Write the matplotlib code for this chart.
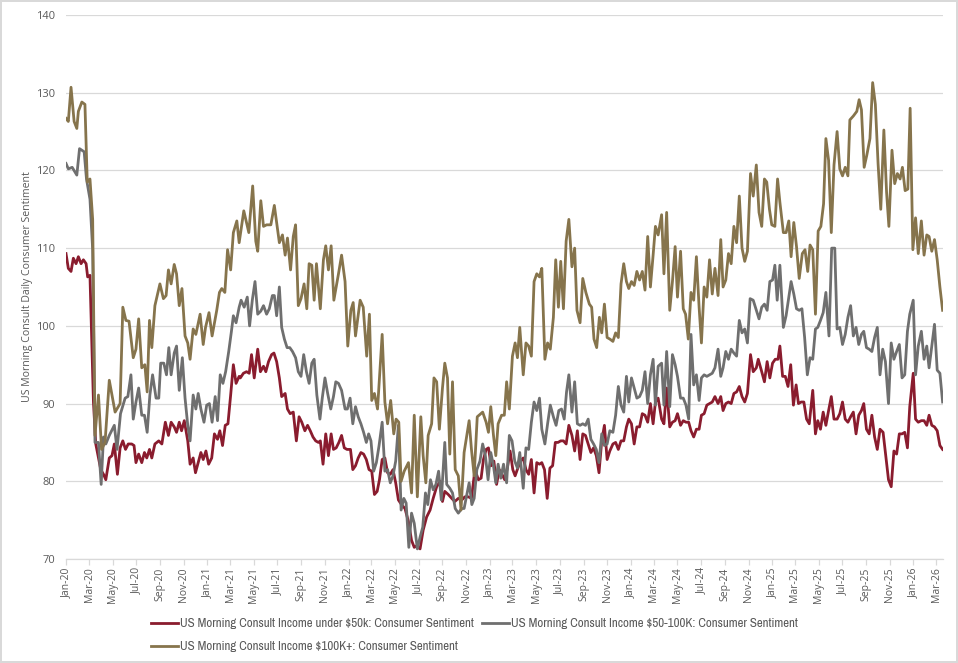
import matplotlib
matplotlib.use("Agg")
import matplotlib.pyplot as plt
import matplotlib.dates as mdates
from matplotlib import font_manager
import pandas as pd

# Weekly readings, x = days since 2020-01-01
START = pd.Timestamp("2020-01-01")
END_DAY = 2269

SERIES_LABELS = [
    "US Morning Consult Income under $50k: Consumer Sentiment",
    "US Morning Consult Income $50-100K: Consumer Sentiment",
    "US Morning Consult Income $100K+: Consumer Sentiment",
]
COLORS = ["#8a1c2e", "#6f6f6f", "#86744c"]

under50_days = [
    0, 6, 13, 19, 26, 32, 39, 45, 52, 56, 62, 71, 77, 84, 90, 97, 103, 112, 119, 125,
    133, 140, 147, 154, 161, 170, 176, 181, 188, 196, 203, 209, 216, 222, 230, 240, 248, 257, 265, 272,
    280, 286, 293, 299, 306, 315, 321, 329, 335, 342, 349, 355, 362, 369, 377, 384, 392, 398, 405, 412,
    419, 426, 433, 440, 448,
    451, 459, 467, 474, 480, 487, 496, 503, 511, 517, 524, 532, 538, 545, 552, 558, 567, 573, 580, 588,
    596, 603, 610, 618, 625, 632, 639, 646, 653, 658, 665, 672, 679, 686, 692, 699, 706, 713, 720, 727,
    736, 742, 749, 756, 763, 770, 777, 784, 791, 798, 805, 811, 818, 825, 832, 839, 846, 853, 860, 868,
    877, 886, 894, 901,
    907, 916, 924, 933, 942, 950, 959, 968, 974, 980, 989, 998, 1006, 1015, 1024, 1032, 1041, 1049, 1058, 1067,
    1074, 1080, 1087, 1093, 1100, 1107, 1114, 1121, 1128, 1135, 1142, 1149, 1156, 1162, 1169, 1176, 1183, 1190, 1197, 1204,
    1211, 1218, 1225, 1231, 1238, 1245, 1252, 1259, 1266, 1273, 1280, 1287, 1294, 1301, 1309, 1316, 1323, 1330, 1337, 1344,
    1354,
    1358, 1365, 1372, 1379, 1386, 1393, 1400, 1407, 1415, 1422, 1429, 1436, 1443, 1450, 1456, 1463, 1470, 1477, 1484, 1491,
    1498, 1505, 1512, 1519, 1525, 1532, 1541, 1547, 1554, 1562, 1569, 1576, 1582, 1590, 1597, 1604, 1611, 1617, 1624, 1631,
    1638, 1644, 1651, 1658, 1665, 1672, 1679, 1687, 1694, 1700, 1707, 1714, 1721, 1728, 1735, 1742, 1749, 1756, 1763, 1771,
    1778, 1786, 1791, 1800, 1807,
    1814, 1821, 1828, 1835, 1842, 1847, 1854, 1861, 1868, 1875, 1882, 1889, 1895, 1902, 1909, 1916, 1923, 1932, 1939, 1945,
    1952, 1959, 1966, 1973, 1980, 1987, 1995, 2002, 2009, 2016, 2023, 2030, 2037, 2044, 2051, 2058, 2064, 2071, 2078, 2085,
    2092, 2099, 2106, 2114, 2121, 2128, 2135, 2142, 2149, 2156, 2163, 2170, 2177, 2183, 2192, 2198, 2205, 2213, 2220, 2227,
    2233, 2240, 2247, 2254, 2261, 2268,
]
under50_vals = [
    109.3, 107.4, 107, 108.7, 108, 108.9, 108, 108.5, 108, 106.3, 106.5, 90.2, 84.8, 83, 81.5, 80.9, 80.2, 83, 83.3, 84.8,
    80.9, 84.3, 85.2, 84.1, 84.8, 84.8, 84.6, 82.4, 83.5, 82.4, 83.7, 83, 84.1, 83, 84.8, 85.2, 84.8, 87.6, 85.9, 87.6,
    87, 86.3, 87.6, 86.5, 87.8, 85.2, 82.2, 83, 81.1, 82.4, 83.7, 82.8, 83.9, 82.2, 83, 86.1, 85.4, 86.5, 84.6, 87.2,
    87.4, 91.1, 95, 92.6, 93.5,
    93.3, 93.9, 94.1, 93.9, 96.3, 93.3, 97, 94.1, 94.8, 94.1, 95.4, 96.3, 96.5, 95.4, 93.3, 90.9, 91.3, 89.3, 88.7, 88.9,
    85.2, 88.3, 87.6, 86.5, 87.2, 86.5, 85.7, 85.2, 85, 85.2, 82.2, 86.1, 83.3, 86.1, 84.1, 84.3, 85, 85.9, 84.3, 84.1,
    84.1, 81.5, 82, 83, 83.7, 83.5, 82.8, 81.5, 81.3, 78.3, 78.7, 80.2, 82.8, 83, 81.1, 80.9, 81.5, 79.8, 77.6, 77,
    76.5, 74.8, 72.4, 71.5,
    71.7, 71.3, 73.7, 75.4, 76.3, 77.8, 79.3, 80, 77.4, 78.7, 78.3, 77.8, 77.4, 77.8, 77.6, 78, 78, 77.8, 81.5, 80.2,
    80.4, 82.8, 84.1, 84.3, 82, 82.6, 79.6, 81.5, 80.9, 80.2, 81.7, 83.9, 81.5, 80.7, 81.7, 82.6, 83, 81.5, 80.9, 82.8,
    78.5, 82.4, 82.2, 82.4, 81.5, 77.8, 81.7, 82, 85, 85, 85.2, 85.2, 84.8, 87.2, 85.9, 83.9, 86.5, 82.8, 86.1, 85.9,
    84.3,
    83.7, 84.3, 83.3, 81.1, 85.2, 87.2, 82.8, 83.9, 84.8, 85, 84.1, 85.2, 85.2, 87, 88, 87.4, 84.8, 87, 87, 88.7,
    88.5, 87.6, 90, 87.4, 90.2, 90.7, 88, 87.4, 92, 87, 87.6, 87.8, 88.7, 87.2, 87.8, 87.6, 87.6, 86.5, 85.7, 86.7,
    86.7, 88.5, 88.7, 89.8, 90, 90.2, 90.9, 90, 90.9, 89.1, 90, 90.2, 90, 91.3, 91.5, 92.2, 90.9, 90.2, 91.3, 96.3,
    94.1, 94.6, 95.7, 94.1, 92.8,
    95.4, 93.3, 95.2, 95.7, 95.7, 97.4, 93.5, 93.5, 92.2, 95, 89.8, 92.4, 90, 90.2, 90.2, 88, 87.4, 91.7, 86.1, 87.8,
    86.7, 88.9, 87.2, 89.1, 90.9, 88, 88, 88.7, 90.2, 88, 87.6, 88.3, 88.9, 86.1, 88.5, 89.1, 90, 86.7, 86.1, 88.5,
    85.7, 84.1, 86.7, 86.3, 83.3, 80.2, 79.3, 83.9, 83.5, 86.1, 86.1, 86.3, 84.3, 89.6, 93.9, 88, 87.6, 87.8, 87.8, 87.2,
    88.5, 87.2, 87, 86.5, 84.6, 84.1,
]

mid_days = [
    0, 6, 16, 28, 35, 41, 47, 53, 62, 69, 75, 84, 91, 97, 103, 112, 125, 132, 141, 153,
    160, 168, 174, 181, 188, 196, 203, 210, 217, 224, 233, 240, 245, 253, 260, 266, 272, 280, 286, 293,
    301, 308, 315, 321, 329, 336, 342, 349, 357, 364, 371, 378, 386, 392, 399, 406, 413, 421, 428, 433,
    440, 448,
    453, 461, 469, 475, 482, 489, 496, 504, 511, 519, 526, 534, 539, 545, 552, 558, 565, 572, 579, 586,
    594, 601, 608, 615, 622, 629, 636, 642, 649, 657, 663, 670, 677, 685, 692, 698, 705, 713, 722, 728,
    735, 742, 749, 756, 763, 770, 777, 783, 789, 796, 803, 810, 818, 825, 832, 839, 846, 853, 860, 867,
    874, 880, 887, 894, 901,
    909, 916, 923, 930, 936, 943, 950, 957, 964, 971, 980, 985, 993, 1000, 1007, 1015, 1024, 1030, 1037, 1043,
    1050, 1056, 1063, 1071, 1078, 1085, 1092, 1099, 1106, 1112, 1118, 1125, 1132, 1140, 1147, 1154, 1161, 1168, 1174, 1183,
    1190, 1197, 1204, 1211, 1218, 1225, 1231, 1239, 1246, 1253, 1261, 1268, 1275, 1282, 1289, 1295, 1301, 1309, 1316, 1323,
    1330, 1337, 1344, 1351,
    1358, 1365, 1372, 1379, 1386, 1393, 1400, 1407, 1415, 1422, 1429, 1436, 1443, 1450, 1456, 1463, 1470, 1477, 1484, 1491,
    1498, 1505, 1512, 1519, 1525, 1532, 1541, 1547, 1554, 1562, 1569, 1576, 1582, 1590, 1597, 1604, 1611, 1617, 1624, 1631,
    1638, 1644, 1651, 1658, 1665, 1672, 1679, 1687, 1694, 1700, 1707, 1714, 1721, 1728, 1735, 1742, 1749, 1756, 1763, 1770,
    1778, 1786, 1793, 1800, 1807,
    1814, 1821, 1828, 1834, 1840, 1847, 1856, 1863, 1870, 1876, 1883, 1890, 1897, 1904, 1911, 1918, 1925, 1932, 1939, 1945,
    1952, 1959, 1966, 1974, 1981, 1989, 1995, 2002, 2009, 2016, 2023, 2030, 2037, 2044, 2051, 2058, 2064, 2071, 2078, 2085,
    2092, 2099, 2106, 2113, 2120, 2128, 2135, 2142, 2149, 2156, 2163, 2170, 2177, 2183, 2192, 2198, 2205, 2213, 2220, 2227,
    2233, 2240, 2247, 2254, 2261, 2268,
]
mid_vals = [
    120.9, 120.2, 120.4, 119.4, 122.8, 122.6, 122.4, 118.9, 116.3, 109.8, 85, 85, 79.6, 85.7, 84.8, 85.9, 87.2, 84.1, 88.7, 90.7,
    90.9, 93.7, 88, 90.2, 92, 88.5, 88.5, 86.3, 91.1, 93.7, 90.7, 90.7, 95.2, 95.2, 93.7, 97.2, 93.7, 96.5, 97.4, 91.7,
    95.9, 90.7, 87.2, 85.2, 91.1, 89.3, 91.3, 89.3, 87.6, 89.8, 90, 87.6, 90.9, 87.8, 93.7, 92.6, 94.1, 96.7, 99.3, 101.3,
    100.4, 102.4,
    103.3, 102.4, 103.7, 100, 103.3, 105.7, 101.5, 101.9, 102.6, 101.5, 102.2, 103.9, 103.9, 101.3, 105, 99.8, 98.3, 97.2, 97.2, 96.7,
    95.9, 94.1, 93.5, 96.3, 94.1, 92.6, 95.2, 95.7, 91.1, 88, 90.7, 93.3, 91.3, 89.3, 90.9, 92.8, 92.6, 91.7, 89.3, 89.3,
    90.7, 87.4, 89.6, 88.3, 87.4, 86.3, 85, 86.1, 85.2, 81.3, 82.4, 84.6, 87.6, 81.3, 81.5, 79.8, 80.7, 82.6, 87.2, 76.3,
    77.8, 77.2, 71.5, 75.9, 74.6,
    71.3, 72.8, 74.1, 78.5, 77, 80.2, 78.9, 79.6, 81.3, 77.6, 85, 79.6, 79.1, 78.5, 76.5, 75.9, 76.5, 76.5, 78.3, 79.8,
    77, 77.8, 81.5, 82.6, 84.8, 83.3, 80.2, 83.7, 82, 79.8, 82.2, 80.4, 82.2, 79.8, 85.9, 85.2, 82.6, 81.7, 83.7, 79.1,
    84.3, 84.1, 87.6, 90.2, 89.1, 90.7, 86.7, 84.8, 87.4, 89.8, 88.3, 87.2, 89.1, 89.3, 88, 91.5, 93.7, 88.9, 92.8, 87.4,
    87.2, 87.4, 87.2, 88,
    85.4, 84.8, 84.1, 82.4, 86.1, 84.6, 84.8, 86.5, 86.3, 88.5, 92.2, 89.8, 88.9, 93.5, 90.2, 93.3, 92, 90.7, 90.9, 91.7,
    94.1, 90, 93.7, 95.7, 89.8, 94.8, 95.2, 89.8, 96.7, 89.6, 96.3, 95, 93.5, 90.7, 90.7, 89.8, 88, 98.9, 92.4, 93.7,
    90.4, 93.3, 93.7, 93.5, 93.7, 93.9, 94.6, 97, 93.5, 94.6, 96.7, 95.7, 97, 96.5, 96.1, 100.7, 99.1, 99.6, 97.8, 103.5,
    103.3, 102, 100.9, 102.4, 102.8,
    102, 105.7, 105.9, 107.8, 103.3, 107.8, 99.8, 101.3, 103.7, 105.7, 104.1, 102.2, 102, 102.2, 98.5, 93.7, 95.9, 95.7, 99.6, 99.8,
    100.7, 101.7, 104.3, 98.7, 110, 110, 99.6, 99.8, 97.6, 98.9, 101.1, 102.6, 98.7, 99.8, 97.6, 98.9, 99.3, 97.2, 97, 96.7,
    98.5, 99.8, 93.7, 97, 95.4, 90, 97.8, 95.7, 96.7, 97.6, 93.3, 93.7, 99.3, 101.5, 103.3, 93.7, 97.4, 99.3, 95.7, 97.4,
    94.6, 97.4, 100.2, 94.3, 93.9, 90.2,
]

high_days = [
    0, 6, 13, 21, 28, 32, 41, 49, 55, 62, 69, 75, 84, 92, 101, 112, 127, 140, 147, 155,
    163, 174, 181, 188, 196, 204, 210, 216, 222, 230, 243, 252, 259, 265, 272, 280, 286, 293, 300, 308,
    315, 321, 329, 336, 347, 355, 361, 370, 378, 390, 397, 403, 411, 418, 426, 433, 442, 448,
    460, 473, 483, 491, 496, 504, 511, 519, 530, 539, 545, 552, 560, 567, 573, 581, 588, 594, 601, 608,
    616, 623, 629, 636, 642, 648, 658, 666, 672, 679, 686, 693, 705, 713, 722, 729, 737, 743, 749, 761,
    769, 778, 785, 791, 798, 806, 818, 825, 832, 840, 848, 854, 861, 867, 875, 886, 894, 901,
    909, 918, 924, 931, 937, 946, 952, 959, 966, 974, 980, 987, 993, 1000, 1007, 1015, 1022, 1030, 1037, 1043,
    1049, 1056, 1064, 1078, 1087, 1093, 1099, 1106, 1112, 1118, 1127, 1134, 1140, 1147, 1155, 1162, 1168, 1174, 1183, 1190,
    1197, 1204, 1211, 1218, 1225, 1231, 1239, 1246, 1253, 1261, 1267, 1274, 1280, 1287, 1294, 1301, 1309, 1316, 1322, 1330,
    1337, 1345, 1354,
    1360, 1366, 1373, 1380, 1386, 1393, 1400, 1407, 1415, 1422, 1429, 1436, 1443, 1450, 1456, 1463, 1470, 1477, 1484, 1491,
    1498, 1505, 1512, 1519, 1525, 1532, 1541, 1547, 1554, 1562, 1569, 1576, 1582, 1590, 1597, 1603, 1610, 1617, 1624, 1631,
    1638, 1644, 1651, 1658, 1665, 1672, 1679, 1687, 1694, 1700, 1707, 1714, 1721, 1728, 1735, 1742, 1749, 1756, 1763, 1771,
    1778, 1786, 1793, 1800, 1807,
    1813, 1820, 1826, 1834, 1841, 1847, 1856, 1863, 1870, 1876, 1883, 1890, 1897, 1905, 1912, 1919, 1925, 1932, 1939, 1946,
    1953, 1960, 1966, 1973, 1980, 1987, 1995, 2002, 2009, 2016, 2023, 2028, 2037, 2046, 2052, 2058, 2065, 2072, 2080, 2087,
    2094, 2101, 2108, 2116, 2123, 2129, 2137, 2144, 2151, 2158, 2164, 2171, 2178, 2184, 2191, 2198, 2205, 2213, 2220, 2227,
    2233, 2240, 2247, 2254, 2261, 2268,
]
high_vals = [
    126.7, 126.3, 130.7, 126.3, 125.4, 127.6, 128.8, 128.5, 118.5, 118.9, 113.7, 85.9, 91.1, 84.1, 85, 93, 88.9, 90, 102.4, 100.7,
    100.6, 95.9, 97, 100.9, 94.6, 95, 91.5, 100.7, 97.2, 102.6, 105.4, 103.5, 103.9, 107.2, 105.4, 107.9, 106.7, 102.6, 104.8, 98.7,
    97.8, 95.7, 99.6, 98.9, 101.5, 97.6, 99.8, 101.7, 98.7, 102, 104.3, 104.8, 104.3, 109.8, 107.2, 112, 113.5, 110.7,
    114.8, 112, 118, 110.9, 109.6, 116.1, 112.8, 113, 113, 115.5, 113.3, 110.7, 111.7, 109.1, 111.3, 107.2, 111.5, 113, 102.6, 103.5,
    105.4, 102.2, 108, 107.8, 103.3, 108, 102.2, 108.5, 110.3, 107.2, 110.3, 103.3, 106.7, 109.1, 105.7, 97.4, 102, 103, 98.7, 103.3,
    102.4, 96.1, 101.5, 90.4, 91.3, 89.3, 98.9, 90.2, 87.4, 90.4, 86.1, 88, 87.6, 80, 81.3, 82.4, 78.5, 88.5,
    78, 88.3, 83.3, 79.8, 85.9, 87.4, 93.3, 92.8, 86.7, 92, 95.2, 93.3, 83.5, 92.8, 81.5, 80.7, 76.3, 83.7, 85.9, 87.8,
    84.1, 80.7, 88.3, 88.9, 87.6, 86.3, 89.6, 85.9, 83.3, 87.4, 88.5, 88.5, 92.8, 89.3, 96.1, 97.8, 95.9, 99.8, 93.7, 97.8,
    97.4, 96.1, 105.7, 106.7, 106.3, 107.4, 95.7, 97.8, 97, 101.1, 108.5, 102.4, 108.3, 102.2, 110.9, 113.7, 107.6, 110, 102, 100.4,
    106.1, 104.3, 102.8,
    102.4, 98.3, 97.2, 101.1, 99.1, 102.8, 98.5, 98.3, 98, 99.1, 98.5, 105.4, 108, 105.7, 104.8, 105.7, 105.2, 107, 105.9, 107,
    104.6, 111.5, 105, 109.1, 112.8, 111.7, 114.3, 106.7, 114.6, 102, 105.7, 110.2, 103.7, 109.6, 102.2, 101.5, 98.3, 104.3, 103.3, 108.9,
    102.4, 97.8, 105, 103.7, 108.5, 104.1, 107.4, 103.9, 111.1, 105, 105.9, 109.3, 108, 112.8, 110.7, 116.7, 110, 108.3, 109.6, 119.6,
    116.7, 120.7, 114.6, 112.8, 118.9,
    118.5, 115, 113, 112.8, 118.9, 115.9, 112, 112, 113.5, 108.9, 113.3, 110.2, 106.1, 109.3, 109.8, 107, 110.4, 109.8, 101.5, 112.2,
    112.8, 115.7, 124.1, 121.3, 112, 120.7, 125, 120.2, 119.3, 120.4, 119.3, 126.5, 127, 127.6, 129.1, 127.8, 120.4, 122, 124.1, 131.3,
    128.5, 120.9, 115, 125.2, 117.2, 112.8, 122.6, 118.3, 119.6, 118.9, 120.4, 117.4, 117.6, 128, 109.8, 113.9, 109.3, 113.5, 109.1, 111.7,
    111.5, 109.6, 111.1, 108.5, 105, 102,
]

Y_TICKS = [70, 80, 90, 100, 110, 120, 130, 140]
TEXT_GREY = "#595959"
GRID_GREY = "#d9d9d9"


def to_dates(days):
    return START + pd.to_timedelta(days, unit="D")


def legend_font():
    # the legend in the source uses a narrow face; take one if installed
    fonts = font_manager.fontManager.ttflist
    for f in fonts:
        if "Narrow" in f.name or "Condensed" in f.name:
            return {"family": [f.name, "DejaVu Sans"], "size": 9.3}
    for f in fonts:
        if f.stretch in ("condensed", "semi-condensed", 300, 400) and f.style == "normal":
            return {"family": [f.name, "DejaVu Sans"], "stretch": f.stretch, "size": 9.3}
    return {"family": ["Liberation Sans", "DejaVu Sans"], "size": 7.6}


all_series = [
    (under50_days, under50_vals),
    (mid_days, mid_vals),
    (high_days, high_vals),
]

fig = plt.figure(figsize=(9.58, 6.63), dpi=100)
fig.patch.set_edgecolor(GRID_GREY)
fig.patch.set_linewidth(1.5)
ax = fig.add_axes([66 / 958, 1 - 559 / 663, (943 - 66) / 958, (559 - 15) / 663])

lines = []
for (days, vals), label, color in zip(all_series, SERIES_LABELS, COLORS):
    assert len(days) == len(vals), label
    ln, = ax.plot(to_dates(days), vals, color=color, lw=2.0, label=label,
                  solid_joinstyle="round")
    lines.append(ln)

ax.set_ylim(70, 140)
ax.set_yticks(Y_TICKS)
ax.set_xlim(START, START + pd.Timedelta(days=END_DAY))
ax.set_xticks(pd.date_range("2020-01-01", "2026-03-01", freq="2MS"))
ax.xaxis.set_major_formatter(mdates.DateFormatter("%b-%y"))

ax.grid(axis="y", color=GRID_GREY, lw=0.9)
ax.set_axisbelow(True)
for side in ["top", "right", "left"]:
    ax.spines[side].set_visible(False)
ax.spines["bottom"].set_color(GRID_GREY)
ax.spines["bottom"].set_linewidth(0.9)

tick_font = ["Open Sans", "DejaVu Sans"]
ax.tick_params(axis="y", length=0, pad=8, labelsize=8, labelcolor=TEXT_GREY)
ax.tick_params(axis="x", length=4, width=0.9, color=GRID_GREY, pad=2,
               labelsize=7.5, labelcolor=TEXT_GREY, labelrotation=90)
for lbl in ax.get_xticklabels() + ax.get_yticklabels():
    lbl.set_family(tick_font)

ax.set_ylabel("US Morning Consult Daily Consumer Sentiment", fontsize=7.6,
              color=TEXT_GREY, family=tick_font, labelpad=2)

# row-major order: red, gray on first row, brown on second
order = [0, 2, 1]
fig.legend([lines[i] for i in order], [SERIES_LABELS[i] for i in order],
           loc="upper left", bbox_to_anchor=(151 / 958, 1 - 618 / 663),
           ncol=2, frameon=False, borderaxespad=0, borderpad=0,
           handlelength=2.1, handletextpad=0.15, columnspacing=0.6,
           labelspacing=0.95, prop=legend_font(), labelcolor=TEXT_GREY)

fig.savefig("out.png", dpi=100)
